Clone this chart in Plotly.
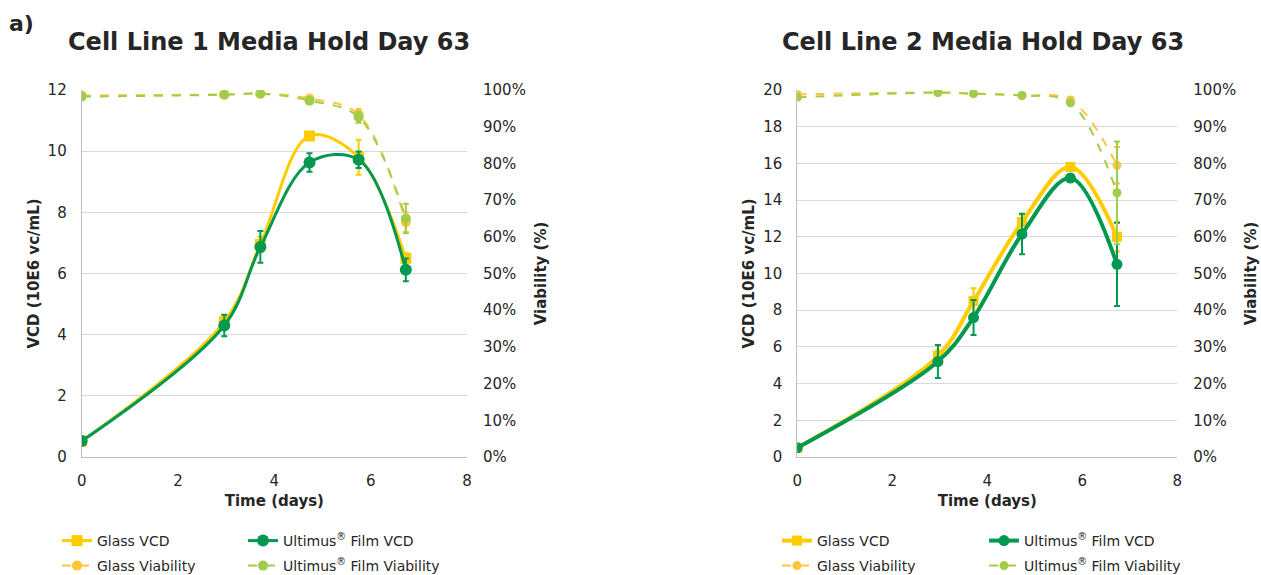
import plotly.graph_objects as go

# ---------------- data ----------------
days = [0, 2.96, 3.71, 4.73, 5.75, 6.73]

# Cell line 1
glass_vcd_1 = [0.52, 4.42, 6.95, 10.5, 9.8, 6.5]
glass_vcd_1_err = [0.04, 0.2, 0.25, 0.1, 0.57, 0.15]
ult_vcd_1 = [0.52, 4.3, 6.87, 9.63, 9.72, 6.12]
ult_vcd_1_err = [0.04, 0.35, 0.52, 0.3, 0.27, 0.37]
glass_via_1 = [98.5, 98.8, 99.0, 97.7, 93.3, 64.0]
glass_via_1_err = [0.3, 0.3, 0.3, 0.5, 1.5, 2.7]
ult_via_1 = [98.2, 98.7, 99.0, 97.1, 92.6, 65.0]
ult_via_1_err = [0.3, 0.3, 0.3, 0.5, 1.5, 4.0]

# Cell line 2
glass_vcd_2 = [0.5, 5.5, 8.5, 12.8, 15.8, 12.0]
glass_vcd_2_err = [0.05, 0.3, 0.7, 0.4, 0.2, 0.8]
ult_vcd_2 = [0.5, 5.2, 7.6, 12.15, 15.2, 10.5]
ult_vcd_2_err = [0.05, 0.9, 0.95, 1.1, 0.2, 2.27]
glass_via_2 = [98.8, 99.3, 99.0, 98.5, 97.3, 79.5]
glass_via_2_err = [0.3, 0.3, 0.3, 0.4, 0.6, 5.0]
ult_via_2 = [98.0, 99.3, 99.0, 98.5, 96.5, 72.0]
ult_via_2_err = [0.3, 0.3, 0.3, 0.4, 0.6, 14.0]

titles = ["Cell Line 1 Media Hold Day 63", "Cell Line 2 Media Hold Day 63"]
names = ["Glass VCD", "Ultimus<sup>®</sup> Film VCD", "Glass Viability", "Ultimus<sup>®</sup> Film Viability"]

# ---------------- styles ----------------
FONT = "DejaVu Sans"
TXT = "#262626"
C_GLASS = "#FFCC00"
C_ULT = "#00994F"
C_GLASS_V = "#FFC63D"
C_ULT_V = "#A2CD4A"
W, H = 1261, 575

fig = go.Figure()

def add_chart(idx, gv, gve, uv, uve, gvi, gvie, uvi, uvie, lw, msz):
    xa = "x" if idx == 0 else "x2"
    ya = "y" if idx == 0 else "y3"
    yb = "y2" if idx == 0 else "y4"
    base = 4 * idx
    lg = ["legend" if base + k == 0 else "legend%d" % (base + k + 1) for k in range(4)]
    fig.add_trace(go.Scatter(
        x=days, y=gv, name=names[0], xaxis=xa, yaxis=ya, legend=lg[0],
        mode="lines+markers", line=dict(color=C_GLASS, width=lw, shape="spline", smoothing=1),
        marker=dict(symbol="square", size=msz, color=C_GLASS),
        error_y=dict(type="data", array=gve, color=C_GLASS, thickness=2, width=3)))
    fig.add_trace(go.Scatter(
        x=days, y=uv, name=names[1], xaxis=xa, yaxis=ya, legend=lg[1],
        mode="lines+markers", line=dict(color=C_ULT, width=lw, shape="spline", smoothing=1),
        marker=dict(symbol="circle", size=msz + 1, color=C_ULT),
        error_y=dict(type="data", array=uve, color=C_ULT, thickness=2, width=3)))
    fig.add_trace(go.Scatter(
        x=days, y=gvi, name=names[2], xaxis=xa, yaxis=yb, legend=lg[2],
        mode="lines+markers", line=dict(color=C_GLASS_V, width=2, dash="dash", shape="spline", smoothing=1),
        marker=dict(symbol="circle", size=msz - 1, color=C_GLASS_V),
        error_y=dict(type="data", array=gvie, color=C_GLASS_V, thickness=2, width=3)))
    fig.add_trace(go.Scatter(
        x=days, y=uvi, name=names[3], xaxis=xa, yaxis=yb, legend=lg[3],
        mode="lines+markers", line=dict(color=C_ULT_V, width=2, dash="dash", shape="spline", smoothing=1),
        marker=dict(symbol="circle", size=msz - 1, color=C_ULT_V),
        error_y=dict(type="data", array=uvie, color=C_ULT_V, thickness=2, width=3)))

add_chart(0, glass_vcd_1, glass_vcd_1_err, ult_vcd_1, ult_vcd_1_err,
          glass_via_1, glass_via_1_err, ult_via_1, ult_via_1_err, 3, 11)
add_chart(1, glass_vcd_2, glass_vcd_2_err, ult_vcd_2, ult_vcd_2_err,
          glass_via_2, glass_via_2_err, ult_via_2, ult_via_2_err, 4, 10)

tickfont = dict(family=FONT, size=15, color=TXT)
titlefont = dict(family=FONT, size=15, color=TXT, weight="bold")

def px_x(p):
    return p / W

def px_y(p):
    return 1 - p / H

dom_y = [px_y(457), px_y(90)]
dom_x1 = [px_x(81.7), px_x(467)]
dom_x2 = [px_x(797.3), px_x(1177.3)]

def xaxis(dom, anchor):
    return dict(domain=dom, anchor=anchor, range=[0, 8], dtick=2, showgrid=False,
                showline=True, linecolor="#BFBFBF", linewidth=1, zeroline=False,
                tickfont=tickfont, ticks="", ticklabelstandoff=10, automargin=False,
                title=dict(text="Time (days)", font=titlefont, standoff=6))

def yaxis_left(rng, anchor):
    return dict(domain=dom_y, anchor=anchor, range=rng, dtick=2, showgrid=True,
                gridcolor="#D9D9D9", gridwidth=1, showline=True, linecolor="#BFBFBF",
                zeroline=False, tickfont=tickfont, ticks="", ticklabelstandoff=11,
                automargin=False,
                title=dict(text="VCD (10E6 vc/mL)", font=titlefont, standoff=4))

def yaxis_right(anchor, overlay):
    return dict(domain=dom_y, anchor=anchor, overlaying=overlay, side="right",
                range=[0, 100], dtick=10, ticksuffix="%", showgrid=False,
                showline=False, zeroline=False, tickfont=tickfont, ticks="",
                ticklabelstandoff=15, automargin=False,
                title=dict(text="Viability (%)", font=titlefont, standoff=10))

leg_common = dict(orientation="h", font=dict(family=FONT, size=14, color=TXT),
                  bgcolor="rgba(0,0,0,0)",
                  xanchor="left", yanchor="middle", itemclick=False, itemdoubleclick=False,
                  tracegroupgap=0)

# legend positions (pixel x of legend box, pixel y of row centre)
leg_pos = [(57, 541), (243, 541), (57, 566), (243, 566),
           (777, 541), (984, 541), (777, 566), (984, 566)]
legends = {}
for i, (lx, ly) in enumerate(leg_pos):
    key = "legend" if i == 0 else "legend%d" % (i + 1)
    legends[key] = dict(leg_common, x=px_x(lx), y=px_y(ly))

fig.update_layout(
    width=W, height=H,
    margin=dict(l=0, r=0, t=0, b=0, autoexpand=False),
    paper_bgcolor="white", plot_bgcolor="white",
    font=dict(family=FONT, color=TXT),
    xaxis=xaxis(dom_x1, "y"),
    yaxis=yaxis_left([0, 12], "x"),
    yaxis2=yaxis_right("x", "y"),
    xaxis2=xaxis(dom_x2, "y3"),
    yaxis3=yaxis_left([0, 20], "x2"),
    yaxis4=yaxis_right("x2", "y3"),
    showlegend=True,
    annotations=[
        dict(text="a)", x=px_x(7), y=px_y(23), xref="paper", yref="paper",
             xanchor="left", yanchor="middle", showarrow=False,
             font=dict(family=FONT, size=22, color=TXT, weight="bold")),
        dict(text=titles[0], x=px_x(269), y=px_y(42), xref="paper", yref="paper",
             xanchor="center", yanchor="middle", showarrow=False,
             font=dict(family=FONT, size=24, color=TXT, weight="bold")),
        dict(text=titles[1], x=px_x(983), y=px_y(42), xref="paper", yref="paper",
             xanchor="center", yanchor="middle", showarrow=False,
             font=dict(family=FONT, size=24, color=TXT, weight="bold")),
    ],
)
fig.update_layout(**legends)

fig.write_html("out.html")
